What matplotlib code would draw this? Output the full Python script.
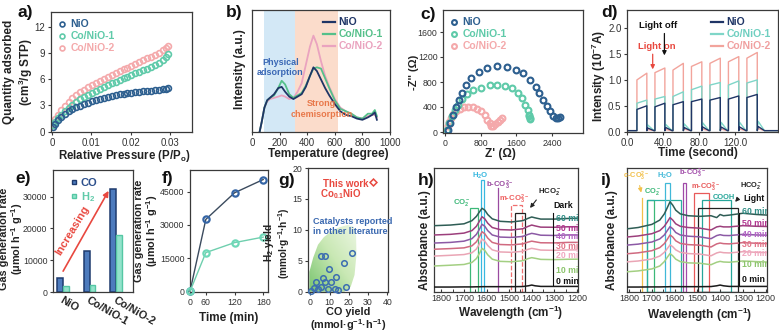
import numpy as np
import matplotlib
matplotlib.use("Agg")
import matplotlib.pyplot as plt
from matplotlib.lines import Line2D
from matplotlib.patches import Polygon, Rectangle
from matplotlib.colors import LinearSegmentedColormap

plt.rcParams['font.family'] = ['Liberation Sans', 'DejaVu Sans']
plt.rcParams['mathtext.fontset'] = 'custom'
plt.rcParams['mathtext.rm'] = 'Liberation Sans:bold'
plt.rcParams['mathtext.it'] = 'Liberation Sans:bold:italic'
plt.rcParams['mathtext.bf'] = 'Liberation Sans:bold'
plt.rcParams['mathtext.default'] = 'rm'

# ---------------- a) N2 adsorption ----------------
P_REL = [0.0003, 0.0008, 0.0015, 0.0023, 0.0032, 0.0042, 0.0052, 0.0062, 0.0072, 0.0082,
         0.0092, 0.0102, 0.0112, 0.0122, 0.0132, 0.0142, 0.0152, 0.0162, 0.0172, 0.0182,
         0.0192, 0.0202, 0.0212, 0.0222, 0.0232, 0.0242, 0.0252, 0.0262, 0.0272, 0.0282,
         0.0290, 0.0296]
ADS_NIO = [0.55, 0.9, 1.3, 1.65, 2.0, 2.3, 2.55, 2.78, 2.98, 3.15, 3.32, 3.48, 3.62, 3.75,
           3.87, 3.98, 4.08, 4.17, 4.26, 4.34, 4.41, 4.47, 4.52, 4.57, 4.61, 4.65, 4.69, 4.73,
           4.78, 4.84, 4.9, 4.95]
ADS_CO1 = [0.7, 1.1, 1.55, 1.95, 2.35, 2.75, 3.1, 3.4, 3.7, 3.95, 4.2, 4.45, 4.68, 4.9,
           5.12, 5.33, 5.53, 5.73, 5.93, 6.12, 6.3, 6.5, 6.68, 6.86, 7.04, 7.22, 7.4, 7.6,
           7.85, 8.15, 8.5, 8.9]
ADS_CO2 = [0.9, 1.4, 1.95, 2.45, 2.95, 3.4, 3.8, 4.15, 4.48, 4.78, 5.05, 5.3, 5.55, 5.8,
           6.03, 6.26, 6.48, 6.7, 6.92, 7.13, 7.34, 7.55, 7.76, 7.97, 8.18, 8.38, 8.58, 8.8,
           9.05, 9.3, 9.55, 9.8]

# ---------------- b) CO2-TPD ----------------
TEMP = [55, 70, 90, 110, 130, 160, 190, 215, 240, 270, 300, 330, 360, 390, 420, 445, 470,
        500, 530, 560, 600, 640, 680, 720, 760, 800, 840, 870, 890, 905]
TPD_NIO = [0.0, 0.08, 0.2, 0.26, 0.28, 0.31, 0.36, 0.37, 0.33, 0.29, 0.27, 0.29, 0.31, 0.37,
           0.46, 0.53, 0.5, 0.43, 0.36, 0.3, 0.23, 0.17, 0.14, 0.13, 0.11, 0.1, 0.12, 0.14,
           0.16, 0.1]
TPD_CO1 = [0.0, 0.08, 0.2, 0.26, 0.28, 0.3, 0.36, 0.42, 0.39, 0.31, 0.28, 0.3, 0.32, 0.38,
           0.46, 0.52, 0.53, 0.52, 0.44, 0.36, 0.26, 0.19, 0.17, 0.15, 0.12, 0.11, 0.15, 0.15,
           0.18, 0.13]
TPD_CO2 = [0.0, 0.08, 0.2, 0.25, 0.27, 0.28, 0.29, 0.3, 0.29, 0.27, 0.28, 0.33, 0.4, 0.55,
           0.7, 0.79, 0.72, 0.58, 0.46, 0.37, 0.27, 0.2, 0.17, 0.15, 0.12, 0.11, 0.13, 0.14,
           0.14, 0.12]
PHYS_RANGE = (90, 310)
CHEM_RANGE = (310, 620)

# ---------------- c) Nyquist ----------------
ZRE_NIO = [60, 110, 170, 240, 310, 380, 470, 580, 760, 950, 1160, 1380, 1580, 1750, 1900,
           2030, 2110, 2200, 2280, 2350, 2420, 2480, 2530, 2570]
ZIM_NIO = [40, 150, 280, 400, 510, 630, 745, 860, 960, 1020, 1050, 1045, 1000, 940, 840,
           725, 630, 520, 420, 330, 260, 225, 220, 235]
ZRE_CO1 = [50, 90, 150, 220, 300, 390, 500, 630, 800, 1000, 1170, 1340, 1500, 1630, 1730,
           1800, 1850, 1880, 1900, 1910, 1890]
ZIM_CO1 = [40, 140, 250, 350, 440, 530, 615, 670, 710, 745, 750, 735, 700, 630, 540, 440,
           350, 280, 230, 210, 250]
ZRE_CO2 = [40, 60, 90, 130, 180, 250, 330, 420, 520, 620, 720, 810, 890, 950, 1000, 1040,
           1080, 1130, 1180, 1230, 1280]
ZIM_CO2 = [20, 90, 160, 230, 290, 340, 375, 395, 400, 395, 370, 330, 270, 200, 140, 95,
           100, 130, 160, 190, 220]

# ---------------- d) photocurrent ----------------
LIGHT_ON = [11, 31, 51, 71.5, 92, 112.5, 133]
LIGHT_OFF = [22, 42, 62.5, 83, 103.5, 124, 144.5]
I_NIO_START = [0.43, 0.48, 0.52, 0.58, 0.61, 0.63, 0.66]
I_NIO_END = [0.5, 0.55, 0.58, 0.63, 0.66, 0.69, 0.72]
I_NIO_TAIL = [0.07, 0.08, 0.08, 0.09, 0.09, 0.09, 0.1]
I_CO1_START = [0.55, 0.63, 0.68, 0.81, 0.9, 0.9, 0.94]
I_CO1_END = [0.61, 0.68, 0.77, 0.88, 0.95, 0.98, 1.0]
I_CO1_TAIL = [0.13, 0.14, 0.15, 0.17, 0.18, 0.18, 0.2]
I_CO2_START = [1.0, 1.14, 1.19, 1.26, 1.32, 1.35, 1.42]
I_CO2_END = [1.13, 1.23, 1.32, 1.35, 1.42, 1.45, 1.53]
I_CO2_TAIL = [0.04, 0.04, 0.05, 0.05, 0.05, 0.05, 0.06]
I_DARK = 0.02

# ---------------- e) gas generation rate ----------------
CATALYSTS = ['NiO', 'Co/NiO-1', 'Co/NiO-2']
RATE_CO = [4500, 12800, 32500]
RATE_H2 = [1800, 2300, 17800]

# ---------------- f) time course ----------------
TIME_MIN = [0, 60, 120, 180]
AMOUNT_CO = [0, 32500, 44500, 50500]
AMOUNT_H2 = [0, 17500, 22000, 24500]

# ---------------- g) comparison with literature ----------------
LIT_CO = [0.5, 1.9, 2.8, 5.7, 7.8, 9.5, 6.6, 7.8, 10.5, 9.1, 12.6, 13.4, 17.4, 18.6, 21.7,
          14.3, 4.0, 5.7]
LIT_H2 = [0.1, 0.65, 1.5, 5.8, 5.7, 3.7, 2.2, 1.6, 1.5, 0.4, 0.5, 2.4, 4.6, 0.8, 6.3,
          0.3, 0.4, 0.8]
THIS_WORK = (32.5, 17.8)
REGION_X = [-0.5, -0.5, 1.5, 4, 7, 11, 15, 19.5, 22.5, 23.8, 24, 23, 21, 17.7, 8, 0]
REGION_Y = [0, 3.2, 5.5, 7.6, 8.8, 9.8, 10.4, 10.8, 10.5, 9, 6, 2.7, 0.8, 0, 0, 0]

# ---------------- h), i) in-situ DRIFTS ----------------
WAVENUM = [1830, 1760, 1700, 1665, 1645, 1632, 1620, 1608, 1595, 1575, 1540, 1490, 1440,
           1415, 1400, 1385, 1360, 1300, 1240, 1190]
TIMES = ['60 min', '50 min', '40 min', '30 min', '20 min', '10 min', '0 min']
DARK_SPECTRA = [
    [0.535, 0.54, 0.55, 0.575, 0.61, 0.645, 0.675, 0.66, 0.625, 0.59, 0.57, 0.565, 0.575, 0.595, 0.605, 0.598, 0.588, 0.588, 0.593, 0.595],
    [0.46, 0.465, 0.475, 0.495, 0.53, 0.57, 0.607, 0.59, 0.555, 0.52, 0.503, 0.5, 0.51, 0.53, 0.54, 0.533, 0.523, 0.522, 0.526, 0.527],
    [0.395, 0.4, 0.41, 0.43, 0.465, 0.505, 0.546, 0.53, 0.495, 0.46, 0.443, 0.44, 0.448, 0.465, 0.473, 0.468, 0.458, 0.456, 0.46, 0.46],
    [0.345, 0.35, 0.356, 0.372, 0.405, 0.445, 0.486, 0.47, 0.435, 0.4, 0.383, 0.38, 0.388, 0.403, 0.41, 0.405, 0.397, 0.396, 0.4, 0.4],
    [0.29, 0.296, 0.302, 0.316, 0.347, 0.387, 0.427, 0.41, 0.375, 0.34, 0.323, 0.32, 0.328, 0.345, 0.352, 0.347, 0.338, 0.336, 0.339, 0.34],
    [0.21, 0.216, 0.222, 0.238, 0.27, 0.31, 0.352, 0.335, 0.3, 0.265, 0.247, 0.244, 0.252, 0.27, 0.277, 0.272, 0.263, 0.261, 0.264, 0.265],
    [0.04, 0.04, 0.041, 0.041, 0.042, 0.042, 0.043, 0.043, 0.043, 0.043, 0.043, 0.043, 0.044, 0.05, 0.056, 0.05, 0.045, 0.045, 0.045, 0.045],
]
LIGHT_SPECTRA = [
    [0.505, 0.52, 0.545, 0.58, 0.63, 0.68, 0.728, 0.7, 0.66, 0.63, 0.615, 0.61, 0.615, 0.6, 0.625, 0.615, 0.62, 0.635, 0.625, 0.62],
    [0.44, 0.452, 0.47, 0.495, 0.53, 0.565, 0.6, 0.58, 0.55, 0.53, 0.52, 0.515, 0.5, 0.525, 0.53, 0.525, 0.525, 0.535, 0.53, 0.528],
    [0.375, 0.386, 0.403, 0.428, 0.46, 0.495, 0.527, 0.51, 0.48, 0.46, 0.45, 0.445, 0.43, 0.455, 0.462, 0.456, 0.455, 0.465, 0.46, 0.458],
    [0.305, 0.316, 0.333, 0.358, 0.39, 0.425, 0.46, 0.443, 0.413, 0.392, 0.382, 0.378, 0.363, 0.388, 0.395, 0.39, 0.388, 0.398, 0.393, 0.39],
    [0.24, 0.25, 0.266, 0.29, 0.32, 0.35, 0.38, 0.365, 0.34, 0.32, 0.31, 0.306, 0.292, 0.315, 0.322, 0.317, 0.315, 0.325, 0.32, 0.318],
    [0.16, 0.17, 0.186, 0.21, 0.245, 0.28, 0.31, 0.292, 0.265, 0.245, 0.235, 0.232, 0.22, 0.24, 0.247, 0.242, 0.24, 0.25, 0.245, 0.242],
    [0.04, 0.04, 0.041, 0.041, 0.042, 0.042, 0.043, 0.043, 0.043, 0.043, 0.043, 0.043, 0.044, 0.05, 0.056, 0.05, 0.045, 0.045, 0.045, 0.045],
]
CURVE_COLORS = ['#2f5d55', '#9c3f7c', '#8c5aa5', '#d06a80', '#eaa5b5', '#a3cf82', '#1a1a1a']
TIME_COLORS = ['#2e8c84', '#b0358f', '#b565c5', '#e27488', '#f0a8c0', '#8cc46c', '#111111']
DARK_LABEL_Y = [0.594, 0.514, 0.446, 0.365, 0.298, 0.177, 0.083]
LIGHT_LABEL_Y = [0.648, 0.554, 0.46, 0.38, 0.312, 0.218, 0.097]

# colours
NAVY = '#1f3566'
C_NIO = '#2d5f8f'
C_CO1 = '#5fcaa9'
C_CO2 = '#f4a9ab'
RED = '#e8483f'

W, H = 779, 335
fig = plt.figure(figsize=(W / 100, H / 100), dpi=100)


def axpx(l, t, r, b):
    return fig.add_axes([l / W, 1 - b / H, (r - l) / W, (b - t) / H])


def ftext(x, y, s, **kw):
    kw.setdefault('ha', 'center')
    kw.setdefault('va', 'center')
    return fig.text(x / W, 1 - y / H, s, **kw)


def style(ax, direction='out', size=7):
    for sp in ax.spines.values():
        sp.set_linewidth(0.9)
        sp.set_color('#3a3a3a')
    ax.tick_params(labelsize=size, length=2.5, width=0.8, pad=1.5, color='#3a3a3a',
                   labelcolor='#333333', direction=direction)


def color_legend(ax, handles, labels, colors, size=7.5, **kw):
    leg = ax.legend(handles, labels, frameon=False, prop={'weight': 'bold', 'size': size},
                    handletextpad=0.35, labelspacing=0.2, borderaxespad=0.3, **kw)
    for t, c in zip(leg.get_texts(), colors):
        t.set_color(c)
    return leg


def ylab(x, y, s, size=8.5, spacing=1.15):
    ftext(x, y, s, rotation=90, fontsize=size, fontweight='bold', color='#222222',
          linespacing=spacing)


def xlab(x, y, s, size=8.5, spacing=1.15):
    ftext(x, y, s, fontsize=size, fontweight='bold', color='#222222', linespacing=spacing)


def letter(x, y, s):
    ftext(x, y, s, fontsize=12.5, fontweight='bold', color='#111111')


# ======== a ========
ax = axpx(51, 12, 192, 132)
style(ax)
for ys, c in [(ADS_NIO, C_NIO), (ADS_CO1, C_CO1), (ADS_CO2, C_CO2)][::-1]:
    ax.plot(P_REL, ys, ls='none', marker='o', ms=4.2, mfc='none', mec=c, mew=1.2)
ax.set_xlim(-0.00025, 0.0356)
ax.set_ylim(-0.05, 13.7)
ax.set_xticks([0, 0.01, 0.02, 0.03])
ax.set_xticklabels(['0', '0.01', '0.02', '0.03'])
ax.set_yticks([0, 3, 6, 9, 12])
hs = [Line2D([], [], ls='none', marker='o', ms=3.5, mfc='none', mec=c, mew=1.2)
      for c in (C_NIO, C_CO1, C_CO2)]
color_legend(ax, hs, ['NiO', 'Co/NiO-1', 'Co/NiO-2'], [C_NIO, C_CO1, C_CO2],
             loc='upper left', handlelength=0.8)
ylab(19, 72, 'Quantity adsorbed\n(cm$^3$/g STP)')
xlab(124, 156, 'Relative Pressure (P/P$_o$)', size=8.3)
letter(25, 13, 'a)')

# ======== b ========
ax = axpx(252, 10, 390, 132)
style(ax)
ax.axvspan(*PHYS_RANGE, color='#d3e8f6', lw=0)
ax.axvspan(*CHEM_RANGE, color='#fbdccb', lw=0)
ax.plot(TEMP, TPD_CO2, color='#eaa3bf', lw=1.3)
ax.plot(TEMP, TPD_CO1, color='#55c08a', lw=1.3)
ax.plot(TEMP, TPD_NIO, color=NAVY, lw=1.3)
ax.set_xlim(0, 1000)
ax.set_ylim(0, 1)
ax.set_xticks([0, 200, 400, 600, 800, 1000])
ax.set_yticks([])
ax.text(205, 0.53, 'Physical\nadsorption', color='#3a68b5', fontsize=6.5, fontweight='bold',
        ha='center', va='center', linespacing=1.2)
ax.text(505, 0.19, 'Strong\nchemisorption', color='#e8784a', fontsize=6.5,
        fontweight='bold', ha='center', va='center', linespacing=1.3)
hs = [Line2D([], [], color=c, lw=1.6) for c in (NAVY, '#55c08a', '#eaa3bf')]
color_legend(ax, hs, ['NiO', 'Co/NiO-1', 'Co/NiO-2'], [NAVY, '#55c08a', '#eaa3bf'],
             loc='upper right', handlelength=1.1)
ylab(240, 69, 'Intensity (a.u.)')
xlab(328, 154, 'Temperature (degree)')
letter(234, 13, 'b)')

# ======== c ========
ax = axpx(443, 10, 583, 133)
style(ax, size=6.3)
for xs, ys, c in [(ZRE_CO2, ZIM_CO2, C_CO2), (ZRE_CO1, ZIM_CO1, C_CO1),
                  (ZRE_NIO, ZIM_NIO, C_NIO)]:
    ax.plot(xs, ys, ls='none', marker='o', ms=4.2, mfc='none', mec=c, mew=1.5)
ax.set_xlim(-45, 3090)
ax.set_ylim(-16, 1952)
ax.set_xticks([0, 800, 1600, 2400])
ax.set_yticks([0, 400, 800, 1200, 1600])
hs = [Line2D([], [], ls='none', marker='o', ms=3.5, mfc='none', mec=c, mew=1.5)
      for c in (C_NIO, C_CO1, C_CO2)]
color_legend(ax, hs, ['NiO', 'Co/NiO-1', 'Co/NiO-2'], [C_NIO, C_CO1, C_CO2],
             loc='upper left', handlelength=0.8)
ylab(414, 72, "-Z'' (Ω)", size=8)
xlab(500, 154, "Z' (Ω)")
letter(428, 14, 'c)')

# ======== d ========
ax = axpx(627, 10, 778, 132)
style(ax)


def pulse_trace(starts, ends, tails):
    t, y = [0], [I_DARK]
    for k in range(len(LIGHT_ON)):
        t += [LIGHT_ON[k], LIGHT_ON[k], LIGHT_OFF[k], LIGHT_OFF[k], LIGHT_OFF[k] + 1,
              LIGHT_OFF[k] + 8]
        y += [I_DARK, starts[k], ends[k], I_DARK, tails[k], I_DARK]
    t.append(170)
    y.append(I_DARK)
    return t, y


D_NIO, D_CO1, D_CO2 = NAVY, '#7fd6c8', '#f2a49c'
ax.plot(*pulse_trace(I_CO2_START, I_CO2_END, I_CO2_TAIL), color=D_CO2, lw=1.0)
ax.plot(*pulse_trace(I_CO1_START, I_CO1_END, I_CO1_TAIL), color=D_CO1, lw=1.0)
ax.plot(*pulse_trace(I_NIO_START, I_NIO_END, I_NIO_TAIL), color=D_NIO, lw=1.0)
ax.set_xlim(0, 167.5)
ax.set_ylim(-0.006, 2.35)
ax.set_xticks([0, 40, 80, 120])
ax.set_xticklabels(['0.0', '40.0', '80.0', '120.0'])
ax.set_yticks([0, 0.5, 1.0, 1.5, 2.0])
ax.set_yticklabels(['0.0', '0.5', '1.0', '1.5', '2.0'])
hs = [Line2D([], [], color=c, lw=1.6) for c in (D_NIO, D_CO1, D_CO2)]
color_legend(ax, hs, ['NiO', 'Co/NiO-1', 'Co/NiO-2'], [NAVY, '#6fcfc0', '#f0a0a0'],
             loc='upper right', handlelength=1.1)
ax.text(12.5, 1.64, 'Light on', color=RED, fontsize=6.8, fontweight='bold',
        ha='left', va='center')
ax.annotate('', xy=(28.5, 1.15), xytext=(28.5, 1.55),
            arrowprops=dict(arrowstyle='-|>', color=RED, lw=0.9, mutation_scale=6))
ax.text(35, 2.06, 'Light off', color='#111111', fontsize=6.8, fontweight='bold',
        ha='center', va='center')
ax.annotate('', xy=(41.5, 1.42), xytext=(41.5, 1.95),
            arrowprops=dict(arrowstyle='-|>', color='#111111', lw=0.9, mutation_scale=6))
ylab(599, 76, 'Intensity (10$^{-7}$A)')
xlab(698, 153, 'Time (second)')
letter(610, 13, 'd)')

# ======== e ========
ax = axpx(53, 170, 133, 292)
style(ax, size=6.3)
xpos = np.arange(len(CATALYSTS))
bw = 0.22
ax.bar(xpos - bw / 2, RATE_CO, width=bw, color='#4d7bbd', edgecolor='#1e3a6e', lw=1.1)
ax.bar(xpos + bw / 2, RATE_H2, width=bw, color='#93e3cb', edgecolor='#55c7a4', lw=1.0)
ax.set_xlim(-0.38, 2.64)
ax.set_ylim(0, 38400)
ax.set_yticks([0, 10000, 20000, 30000])
ax.set_xticks(xpos)
ax.set_xticklabels(CATALYSTS, rotation=-30, ha='left', va='top', rotation_mode='anchor',
                   fontweight='bold', fontsize=7.8, color='#222222')
for lbl, dx in zip(ax.get_xticklabels(), (-9, -16, -6)):
    lbl.set_transform(lbl.get_transform() +
                      matplotlib.transforms.ScaledTranslation(dx / 100, 0, fig.dpi_scale_trans))
ax.tick_params(axis='x', length=0, pad=2)
ax.annotate('', xy=(1.77, 32600), xytext=(-0.05, 5800),
            arrowprops=dict(arrowstyle='-|>', color=RED, lw=1.2, mutation_scale=8))
ax.text(0.36, 19500, 'Increasing', rotation=59, color=RED, fontsize=8, fontweight='bold',
        ha='center', va='center')
hs = [Line2D([], [], ls='none', marker='s', ms=3, mfc='#4d7bbd', mec='#1e3a6e'),
      Line2D([], [], ls='none', marker='s', ms=3, mfc='#93e3cb', mec='#55c7a4')]
color_legend(ax, hs, ['CO', 'H$_2$'], ['#2c4f8c', '#5fcaa9'], size=8,
             loc='upper left', handlelength=0.6, bbox_to_anchor=(0.12, 1.0))
ylab(12, 239, 'Gas generation rate\n(μmol h$^{-1}$ g$^{-1}$)', size=7.8, spacing=1.05)
letter(23, 178, 'e)')

# ======== f ========
ax = axpx(190, 170, 268, 292)
style(ax, size=6.3)


def t_fwd(t):
    t = np.asarray(t, dtype=float)
    return np.where(t < 60, t * 16 / 60, 16 + (t - 60) * 58 / 120)


def t_inv(s):
    s = np.asarray(s, dtype=float)
    return np.where(s < 16, s * 60 / 16, 60 + (s - 16) * 120 / 58)


ax.set_xscale('function', functions=(t_fwd, t_inv))
ax.plot(TIME_MIN, AMOUNT_CO, color='#3b4b5e', lw=1.0, marker='o', ms=4.5, mfc='none',
        mec='#3565a5', mew=1.6, clip_on=False, zorder=3)
ax.plot(TIME_MIN, AMOUNT_H2, color='#6fcfae', lw=1.0, marker='o', ms=4.5, mfc='none',
        mec='#6fd8b8', mew=1.6, clip_on=False, zorder=3)
ax.set_xlim(0, 190)
ax.set_ylim(-300, 54800)
ax.set_xticks([0, 60, 120, 180])
ax.set_xticklabels(['0', '60', '120', '180'])
ax.xaxis.set_minor_locator(matplotlib.ticker.NullLocator())
ax.set_yticks([0, 15000, 30000, 45000])
ylab(147, 231, 'Gas generation rate\n(μmol h$^{-1}$ g$^{-1}$)', size=7.8, spacing=1.05)
xlab(229, 318, 'Time (min)')
letter(168, 178, 'f)')

# ======== g ========
ax = axpx(308, 168, 388, 292)
style(ax, size=6.3)
region = Polygon(np.column_stack([REGION_X, REGION_Y]), closed=True, facecolor='none',
                 edgecolor='none')
ax.add_patch(region)
gx = np.linspace(0, 1, 60)
grad = (gx[None, :] + gx[:, None]) / 2
cmap = LinearSegmentedColormap.from_list('blob', ['#78c46e', '#c9e8b4', '#f0f8e8'])
im = ax.imshow(grad, extent=(-1, 25, 0, 11.5), origin='lower', cmap=cmap, aspect='auto',
               zorder=1)
im.set_clip_path(region)
ax.plot(LIT_CO, LIT_H2, ls='none', marker='o', ms=4, mfc='none', mec='#3c6db0', mew=1.1,
        zorder=3, clip_on=False)
ax.plot(*THIS_WORK, ls='none', marker='D', ms=3.5, mfc='none', mec=RED, mew=1.1, zorder=3)
ax.text(18.5, 17.4, 'This work', color=RED, fontsize=7, fontweight='bold',
        ha='center', va='center')
ax.text(16, 15.7, 'Co$_{0.1}$NiO', color=RED, fontsize=7, fontweight='bold',
        ha='center', va='center')
ax.text(1.5, 11.4, 'Catalysts reported', color='#3a68b0', fontsize=6.5,
        fontweight='bold', ha='left', va='center', clip_on=False)
ax.text(1.5, 9.8, 'in other literature', color='#3a68b0', fontsize=6.5,
        fontweight='bold', ha='left', va='center', clip_on=False)
ax.set_xlim(-1.2, 40.4)
ax.set_ylim(-0.05, 20)
ax.set_xticks([0, 10, 20, 30, 40])
ax.set_yticks([0, 5, 10, 15, 20])
ylab(277, 243, 'H$_2$ yield\n(mmol·g$^{-1}$·h$^{-1}$)', size=7.3, spacing=1.05)
xlab(348, 320, 'CO yield\n(mmol·g$^{-1}$·h$^{-1}$)', size=7.8, spacing=1.05)
letter(287, 180, 'g)')


# ======== h, i ========
def spectra_panel(ax, spectra, label_y, label_x, arrow_x, xlim):
    style(ax, direction='in', size=6.5)
    for ys, c in zip(spectra[::-1], CURVE_COLORS[::-1]):
        ax.plot(WAVENUM, ys, color=c, lw=1.1, zorder=3)
    for lbl, y, c in zip(TIMES, label_y, TIME_COLORS):
        ax.text(label_x, y, lbl, color=c, fontsize=6.3, fontweight='bold', ha='left',
                va='center', clip_on=True, zorder=4)
    ax.plot([arrow_x, arrow_x], [0.06, 0.64], color='#111111', lw=0.8, zorder=4)
    ax.set_xlim(*xlim)
    ax.set_ylim(0, 1)
    ax.set_xticks([1800, 1700, 1600, 1500, 1400, 1300, 1200])
    ax.set_xticks(np.arange(1750, 1200, -100), minor=True)
    ax.tick_params(axis='x', which='minor', direction='in', length=2, width=0.7,
                   color='#3a3a3a')
    ax.set_yticks([])


def box(ax, x1, x2, top, color, ls='-'):
    ax.add_patch(Rectangle((min(x1, x2), 0), abs(x2 - x1), top, fill=False,
                           edgecolor=color, lw=0.9, ls=ls, zorder=2))


def vline(ax, x, top, color):
    ax.plot([x, x], [0, top], color=color, lw=0.9, zorder=2)


def species(ax, x, y, s, color, size=5.6):
    ax.text(x, y, s, color=color, fontsize=size, fontweight='bold', ha='center',
            va='center', zorder=5)


ax = axpx(434, 168, 578, 292)
spectra_panel(ax, DARK_SPECTRA, DARK_LABEL_Y, 1293, 1306, (1833, 1195))
box(ax, 1675, 1640, 0.68, '#3cb878')
box(ax, 1625, 1612, 0.9, '#38b8e0')
vline(ax, 1548, 0.84, '#9a4aa0')
box(ax, 1494, 1443, 0.7, '#ef6f6f', ls='--')
box(ax, 1472, 1428, 0.64, '#222222')
species(ax, 1712, 0.72, 'CO$_2^-$', '#3cb878')
species(ax, 1629, 0.935, 'H$_2$O', '#38b8e0')
species(ax, 1540, 0.86, 'b-CO$_3^{2-}$', '#9a4aa0')
species(ax, 1480, 0.75, 'm-CO$_3^{2-}$', '#ef5f5f')
species(ax, 1322, 0.81, 'HCO$_2^-$', '#222222')
species(ax, 1262, 0.70, 'Dark', '#111111', size=6.3)
ax.annotate('', xy=(1415, 0.66), xytext=(1372, 0.76),
            arrowprops=dict(arrowstyle='-|>', color='#222222', lw=0.8, mutation_scale=6))
ylab(425, 240, 'Absorbance (a.u.)')
xlab(511, 313, 'Wavelength (cm$^{-1}$)')
letter(426, 180, 'h)')

ax = axpx(627, 168, 767, 292)
spectra_panel(ax, LIGHT_SPECTRA, LIGHT_LABEL_Y, 1304, 1317, (1809, 1194))
vline(ax, 1744, 0.76, '#f2c04a')
box(ax, 1722, 1690, 0.74, '#3cb878')
box(ax, 1722, 1573, 0.74, '#2ab0a0')
box(ax, 1640, 1622, 0.88, '#40b8d8')
box(ax, 1562, 1550, 0.88, '#a04aa8')
box(ax, 1515, 1450, 0.8, '#e85a5a')
box(ax, 1480, 1350, 0.74, '#26a69a')
box(ax, 1496, 1320, 0.68, '#222222')
species(ax, 1768, 0.935, 'c-CO$_3^{2-}$', '#f2c04a', size=5.4)
ax.annotate('', xy=(1744, 0.78), xytext=(1756, 0.88),
            arrowprops=dict(arrowstyle='-|>', color='#f2c04a', lw=0.8, mutation_scale=6))
species(ax, 1695, 0.81, 'CO$_2^-$', '#3cb878', size=5.4)
species(ax, 1640, 0.935, 'H$_2$O', '#40b8d8', size=5.4)
species(ax, 1522, 0.955, 'b-CO$_3^{2-}$', '#a04aa8', size=5.4)
species(ax, 1462, 0.84, 'm-CO$_3^{2-}$', '#e85a5a', size=5.4)
species(ax, 1384, 0.765, 'COOH', '#26a69a', size=5.4)
species(ax, 1262, 0.86, 'HCO$_2^-$', '#222222', size=5.4)
species(ax, 1250, 0.755, 'Light', '#111111', size=6.2)
ax.annotate('', xy=(1342, 0.71), xytext=(1313, 0.77),
            arrowprops=dict(arrowstyle='-|>', color='#222222', lw=0.8, mutation_scale=6))
ylab(612, 240, 'Absorbance (a.u.)')
xlab(700, 315, 'Wavelength (cm$^{-1}$)')
letter(606, 180, 'i)')

fig.savefig('out.png', dpi=100)
